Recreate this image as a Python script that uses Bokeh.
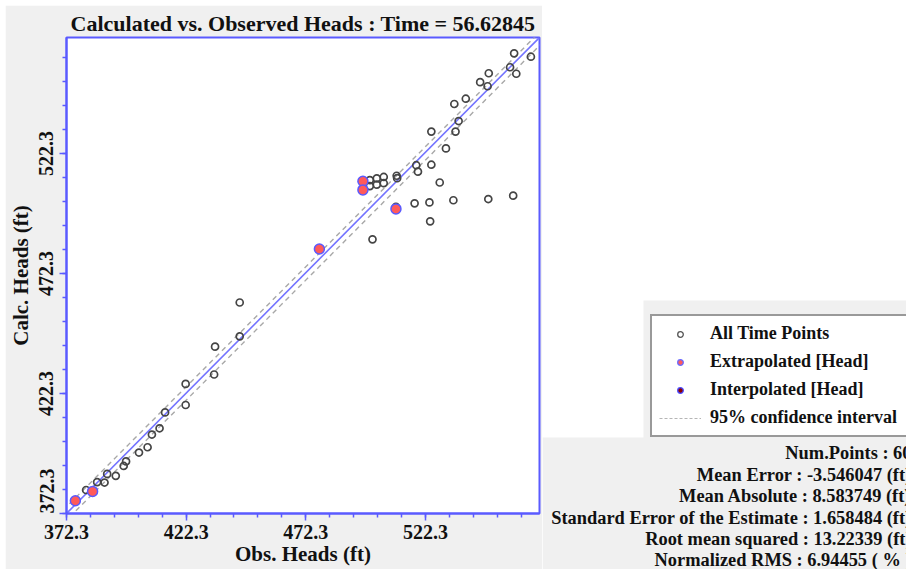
import math
from bokeh.plotting import figure
from bokeh.layouts import row
from bokeh.models import FixedTicker, Label, Legend, LegendItem, Range1d
from bokeh.embed import file_html
from bokeh.resources import INLINE

# ---------------- data ----------------
obs_all = [380.5, 385.1, 388.2, 389.3, 392.9, 396.2, 397.2, 402.6, 406.2, 408.0,
           411.2, 413.5, 422.1, 422.1, 434.0, 434.4, 444.7, 444.7, 500.2, 499.1,
           502.0, 504.9, 499.1, 502.0, 504.9, 510.3, 510.5, 518.5, 519.2, 524.8,
           528.3, 517.8, 524.0, 534.0, 548.6, 559.0, 524.3, 510.0, 524.8, 534.9,
           530.9, 536.2, 534.4, 539.2, 545.2, 548.3, 548.8, 557.7, 559.4, 560.3,
           566.4, 376.0, 383.2, 478.0, 496.2, 496.2]
calc_all = [382.1, 385.4, 385.2, 388.8, 388.0, 392.1, 394.0, 397.7, 399.9, 405.2,
            407.8, 414.4, 417.5, 426.3, 430.2, 441.8, 446.1, 460.2, 486.5, 511.2,
            511.9, 512.5, 508.7, 509.3, 509.9, 513.0, 512.0, 517.4, 514.7, 517.6,
            510.2, 501.5, 501.9, 502.8, 503.3, 504.7, 494.0, 500.1, 531.4, 531.4,
            524.4, 535.8, 542.9, 545.1, 552.0, 550.3, 555.7, 558.2, 564.0, 555.5,
            562.6, 377.6, 381.5, 482.5, 510.7, 507.1]
obs_extrap = [376.0, 383.2, 478.0, 496.2, 496.2, 510.0]
calc_extrap = [377.6, 381.5, 482.5, 510.7, 507.1, 499.2]
obs_interp = []
calc_interp = []
ci_half_width = 2.8

axis_min = 372.3
axis_max_x = 570.0
axis_max_y = 570.6
major_ticks = [372.3, 422.3, 472.3, 522.3]
minor_ticks = [372.3, 382.3, 392.3, 402.3, 412.3, 422.3, 432.3, 442.3, 452.3, 462.3,
               472.3, 482.3, 492.3, 502.3, 512.3, 522.3, 532.3, 542.3, 552.3, 562.3]

title_text = "Calculated vs. Observed Heads : Time = 56.62845"
x_label = "Obs. Heads (ft)"
y_label = "Calc. Heads (ft)"
legend_labels = ["All Time Points", "Extrapolated [Head]", "Interpolated [Head]",
                 "95% confidence interval"]
stats_lines = ["Num.Points : 60",
               "Mean Error : -3.546047 (ft)",
               "Mean Absolute : 8.583749 (ft)",
               "Standard Error of the Estimate : 1.658484 (ft)",
               "Root mean squared : 13.22339 (ft)",
               "Normalized RMS : 6.94455 ( % )"]

SERIF = "Liberation Serif"
BLUE = "#5a5aff"
GREY_BG = "#f0f0f0"

# ---------------- main chart ----------------
p = figure(width=537, height=564, margin=(5, 0, 0, 5),
           x_range=Range1d(axis_min, axis_max_x), y_range=Range1d(axis_min, axis_max_y),
           output_backend="svg", toolbar_location=None,
           min_border_left=59, min_border_right=3, min_border_top=32, min_border_bottom=56)
p.frame_align = False
p.title.text = title_text
p.title.align = "center"
p.title.text_font = SERIF
p.title.text_font_style = "bold"
p.title.text_font_size = "22px"
p.title.text_color = "#111111"
p.title.standoff = 4
p.border_fill_color = GREY_BG
p.background_fill_color = "white"
p.outline_line_color = BLUE
p.outline_line_width = 2
p.xgrid.visible = False
p.ygrid.visible = False

for ax in (p.xaxis[0], p.yaxis[0]):
    ax.ticker = FixedTicker(ticks=major_ticks, minor_ticks=minor_ticks)
    ax.axis_line_color = BLUE
    ax.axis_line_width = 2
    ax.major_tick_line_color = BLUE
    ax.minor_tick_line_color = BLUE
    ax.major_tick_line_width = 1.5
    ax.minor_tick_line_width = 1.5
    ax.major_tick_in = 0
    ax.minor_tick_in = 0
    ax.major_tick_out = 7
    ax.minor_tick_out = 4
    ax.major_label_text_font = SERIF
    ax.major_label_text_font_style = "bold"
    ax.major_label_text_font_size = "20px"
    ax.major_label_text_color = "#111111"
    ax.axis_label_text_font = SERIF
    ax.axis_label_text_font_style = "bold"
    ax.axis_label_text_font_size = "21px"
    ax.axis_label_text_color = "#111111"
    ax.axis_label_standoff = 0

p.xaxis.axis_label = x_label
p.yaxis.axis_label = y_label
p.xaxis.major_label_standoff = 4
p.yaxis.major_label_standoff = 2
p.yaxis.major_label_orientation = "vertical"
# the lowest y label is pushed up so that it stays inside the axis extent
p.yaxis.major_label_overrides = {major_ticks[0]: "\u00a0" * 9 + f"{major_ticks[0]}"}

xs_line = [axis_min - 20, axis_max_x + 20]
p.line(xs_line, [v + ci_half_width for v in xs_line], line_color="#a8a8a8",
       line_width=1.4, line_dash="5 4")
p.line(xs_line, [v - ci_half_width for v in xs_line], line_color="#a8a8a8",
       line_width=1.4, line_dash="5 4")
p.line([axis_min, axis_max_x], [axis_min, axis_max_y], line_color="#7373ff", line_width=1.6)

p.scatter(obs_all, calc_all, marker="circle", size=7, fill_color=None,
          line_color="#454545", line_width=1.7)
p.scatter(obs_extrap, calc_extrap, marker="circle", size=10, fill_color="#ff5a5a",
          line_color="#5a5aff", line_width=1.5)
p.scatter(obs_interp, calc_interp, marker="circle", size=10, fill_color="#990000",
          line_color="#3a3ad0", line_width=1.5)

# ---------------- side panel: legend + statistics ----------------
s = figure(width=364, height=569, x_range=Range1d(542, 906), y_range=Range1d(569, 0),
           output_backend="svg", toolbar_location=None, title=None,
           x_axis_location=None, y_axis_location=None, min_border=0)
s.frame_align = False
s.grid.visible = False
s.outline_line_color = None
s.background_fill_color = "white"
s.border_fill_color = "white"
s.quad(left=[643, 542], right=[906, 906], top=[300, 437], bottom=[569, 569],
       fill_color=GREY_BG, line_color=None)

# legend proxies (placed outside the visible range)
far = [-1000]
l_all = s.scatter(far, far, marker="circle", fill_color=None, line_color="#555555", line_width=1.3)
l_ext = s.scatter(far, far, marker="circle", fill_color="#ff5a5a", line_color="#6a6aff", line_width=1.3)
l_int = s.scatter(far, far, marker="circle", fill_color="#8b0000", line_color="#4a4aff", line_width=1.3)
l_ci = s.line(far, far, line_color="#b5b5b5", line_width=1, line_dash="3 2")

legend = Legend(items=[LegendItem(label=legend_labels[0], renderers=[l_all]),
                       LegendItem(label=legend_labels[1], renderers=[l_ext]),
                       LegendItem(label=legend_labels[2], renderers=[l_int]),
                       LegendItem(label=legend_labels[3], renderers=[l_ci])],
                location=(108, 132), orientation="vertical")
legend.glyph_width = 42
legend.glyph_height = 14
legend.label_height = 20
legend.label_width = 230
legend.spacing = 7
legend.padding = 7
legend.margin = 0
legend.label_standoff = 9
legend.label_text_font = SERIF
legend.label_text_font_style = "bold"
legend.label_text_font_size = "18px"
legend.label_text_color = "#111111"
legend.border_line_color = "#333333"
legend.border_line_width = 2
legend.background_fill_color = "white"
legend.background_fill_alpha = 1.0
s.add_layout(legend)

stat_y = [452, 474, 495, 517, 538, 559]
for txt, yy in zip(stats_lines, stat_y):
    s.add_layout(Label(text=txt, x=911, y=yy, text_font=SERIF, text_font_style="bold",
                       text_font_size="18.4px", text_color="#111111",
                       text_align="right", text_baseline="middle"))

layout = row(p, s, spacing=0)
open("out.html", "w").write(file_html(layout, INLINE))
